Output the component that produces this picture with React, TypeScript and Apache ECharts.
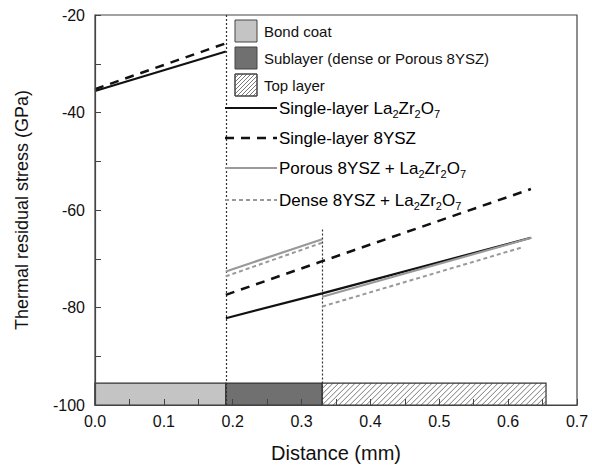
import React, { useEffect, useRef } from "react";
import * as echarts from "echarts";

// ---- data ----
const xTicks = [0, 0.1, 0.2, 0.3, 0.4, 0.5, 0.6, 0.7];
const layerNames = ["Bond coat", "Sublayer (dense or Porous 8YSZ)", "Top layer"];
const layerStart = [0, 0.19, 0.33];
const layerEnd = [0.19, 0.33, 0.655];
const layerTop = -95.5;
const layerBottom = -100;

const singleLaSeg1 = [[0, -35.6], [0.19, -27.5]];
const singleLaSeg2 = [[0.19, -82.2], [0.33, -77.1], [0.633, -65.7]];
const single8Seg1 = [[0, -35.2], [0.19, -25.8]];
const single8Seg2 = [[0.19, -77.4], [0.33, -70.5], [0.633, -55.7]];
const porousSeg1 = [[0.19, -72.6], [0.33, -66.0]];
const porousSeg2 = [[0.33, -77.8], [0.634, -65.7]];
const denseSeg1 = [[0.19, -73.6], [0.33, -66.7]];
const denseSeg2 = [[0.33, -79.8], [0.622, -67.6]];

const boundary1 = [[0.19, -20], [0.19, -100]];
const boundary2 = [[0.33, -64], [0.33, -100]];

const FONT = "Liberation Sans, Arial, sans-serif";

function hatchLines(L: number, T: number, R: number, B: number, s: number, stroke: string) {
  const h = B - T;
  const out: any[] = [];
  for (let a = L - h; a < R; a += s) {
    const xs = Math.max(a, L);
    const xe = Math.min(a + h, R);
    if (xs < xe) {
      out.push({
        type: "line",
        shape: { x1: xs, y1: B - (xs - a), x2: xe, y2: B - (xe - a) },
        style: { stroke, lineWidth: 0.8 },
        silent: true,
      });
    }
  }
  return out;
}

const fills = ["#c4c4c4", "#707070", "#ffffff"];

export default function App() {
  const ref = useRef<HTMLDivElement>(null);
  useEffect(() => {
    if (!ref.current) return;
    const chart = echarts.init(ref.current, undefined, { renderer: "svg" });

    const lineSeries = (data: number[][], color: string, width: number, type: any) => ({
      type: "line",
      data,
      symbol: "none",
      z: 5,
      lineStyle: { color, width, type },
    });

    const layerData = layerStart.map((s, i) => [s, layerEnd[i], i]);

    const rich = {
      n: { fontSize: 17, fontFamily: FONT, color: "#111", lineHeight: 24, verticalAlign: "middle" },
      s: { fontSize: 11, fontFamily: FONT, color: "#111", lineHeight: 24, verticalAlign: "bottom", padding: [0, 0, 1, 0] },
    };
    const legendLines = [
      { y: 108, text: "{n|Single-layer La}{s|2}{n|Zr}{s|2}{n|O}{s|7}", color: "#111", w: 2.2, dash: "solid" },
      { y: 138, text: "{n|Single-layer 8YSZ}", color: "#111", w: 2.5, dash: [9, 7] },
      { y: 168, text: "{n|Porous 8YSZ + La}{s|2}{n|Zr}{s|2}{n|O}{s|7}", color: "#999", w: 2.2, dash: "solid" },
      { y: 200, text: "{n|Dense 8YSZ + La}{s|2}{n|Zr}{s|2}{n|O}{s|7}", color: "#999", w: 2, dash: [4, 3] },
    ];
    const patchY = [20, 47, 74];

    const graphic: any[] = [];
    patchY.forEach((y, i) => {
      graphic.push({
        type: "rect",
        shape: { x: 235, y, width: 22, height: 22 },
        style: { fill: fills[i], stroke: "#444", lineWidth: 1 },
        z: 20,
      });
      if (i === 2) {
        hatchLines(235, y, 257, y + 22, 4, "#555").forEach((l) => graphic.push({ ...l, z: 21 }));
        graphic.push({
          type: "rect",
          shape: { x: 235, y, width: 22, height: 22 },
          style: { fill: "none", stroke: "#444", lineWidth: 1 },
          z: 22,
        });
      }
      graphic.push({
        type: "text",
        x: 264,
        y: y + 11,
        style: { text: layerNames[i], fontSize: 15, fontFamily: FONT, fill: "#111", verticalAlign: "middle" },
        z: 20,
      });
    });
    legendLines.forEach((l) => {
      graphic.push({
        type: "line",
        shape: { x1: 225, y1: l.y, x2: 277, y2: l.y },
        style: { stroke: l.color, lineWidth: l.w, lineDash: l.dash === "solid" ? null : l.dash },
        z: 20,
      });
      graphic.push({
        type: "text",
        x: 279,
        y: l.y,
        style: { text: l.text, rich, verticalAlign: "middle", fontFamily: FONT },
        z: 20,
      });
    });

    chart.setOption({
      animation: false,
      backgroundColor: "#ffffff",
      grid: { left: 95, right: 15, top: 15, bottom: 60, show: true, borderColor: "#444", borderWidth: 1.2 },
      xAxis: {
        type: "value",
        min: xTicks[0],
        max: xTicks[xTicks.length - 1],
        interval: 0.1,
        z: 10,
        name: "Distance (mm)",
        nameLocation: "middle",
        nameGap: 38,
        nameTextStyle: { fontSize: 20, fontFamily: FONT, color: "#111" },
        axisLine: { lineStyle: { color: "#444", width: 1.2 } },
        axisTick: { inside: true, length: 6, lineStyle: { color: "#444" } },
        minorTick: { show: true, splitNumber: 2, length: 6, lineStyle: { color: "#444" } },
        splitLine: { show: false },
        axisLabel: { fontSize: 16, fontFamily: FONT, color: "#111", margin: 8, formatter: (v: number) => v.toFixed(1) },
      },
      yAxis: {
        type: "value",
        min: -100,
        max: -20,
        interval: 20,
        z: 10,
        name: "Thermal residual stress (GPa)",
        nameLocation: "middle",
        nameGap: 64,
        nameTextStyle: { fontSize: 18, fontFamily: FONT, color: "#111" },
        axisLine: { lineStyle: { color: "#444", width: 1.2 } },
        axisTick: { inside: true, length: 6, lineStyle: { color: "#444" } },
        minorTick: { show: true, splitNumber: 2, length: 6, lineStyle: { color: "#444" } },
        splitLine: { show: false },
        axisLabel: { fontSize: 16, fontFamily: FONT, color: "#111", margin: 10 },
      },
      graphic,
      series: [
        {
          type: "custom",
          data: layerData,
          encode: { x: [0, 1] },
          z: 3,
          renderItem: (params: any, api: any) => {
            const i = api.value(2);
            const p0 = api.coord([api.value(0), layerTop]);
            const p1 = api.coord([api.value(1), layerBottom]);
            const L = p0[0], T = p0[1], R = p1[0], B = p1[1];
            const children: any[] = [
              { type: "rect", shape: { x: L, y: T, width: R - L, height: B - T }, style: { fill: fills[i], stroke: "none" } },
            ];
            if (i === 2) children.push(...hatchLines(L, T, R, B, 5.5, "#555"));
            children.push({
              type: "rect",
              shape: { x: L, y: T, width: R - L, height: B - T },
              style: { fill: "none", stroke: "#333", lineWidth: 1.2 },
            });
            return { type: "group", children };
          },
        },
        {
          ...lineSeries(singleLaSeg1, "#111", 2.2, "solid"),
          markLine: {
            silent: true,
            symbol: "none",
            label: { show: false },
            lineStyle: { color: "#333", width: 1.2, type: [2, 2] },
            data: [
              [{ coord: boundary1[0] }, { coord: boundary1[1] }],
              [{ coord: boundary2[0] }, { coord: boundary2[1] }],
            ],
          },
        },
        lineSeries(singleLaSeg2, "#111", 2.2, "solid"),
        lineSeries(single8Seg1, "#111", 2.5, [9, 7]),
        lineSeries(single8Seg2, "#111", 2.5, [9, 7]),
        lineSeries(porousSeg1, "#999", 2.2, "solid"),
        lineSeries(porousSeg2, "#999", 2.2, "solid"),
        lineSeries(denseSeg1, "#999", 2, [4, 3]),
        lineSeries(denseSeg2, "#999", 2, [4, 3]),
      ],
    });
    return () => chart.dispose();
  }, []);
  return <div ref={ref} style={{ width: 592, height: 468, position: "absolute", left: 0, top: 0 }} />;
}
